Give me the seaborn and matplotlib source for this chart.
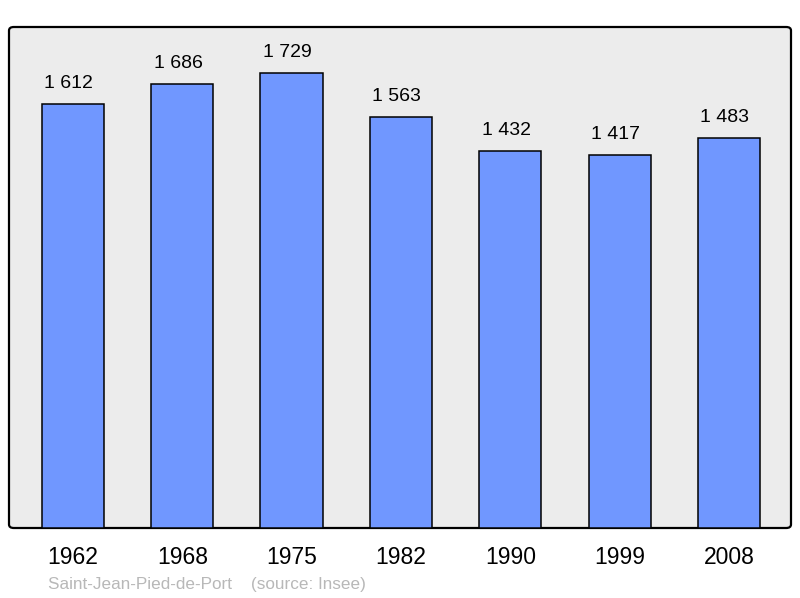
import matplotlib
matplotlib.use("Agg")
import matplotlib.pyplot as plt
import seaborn as sns
import pandas as pd
from matplotlib.patches import FancyBboxPatch

years = ["1962", "1968", "1975", "1982", "1990", "1999", "2008"]
population = [1612, 1686, 1729, 1563, 1432, 1417, 1483]
value_labels = ["1 612", "1 686", "1 729", "1 563", "1 432", "1 417", "1 483"]

sns.set_theme(style="white")
plt.rcParams['font.family'] = ['Liberation Sans', 'DejaVu Sans']

W, H = 800, 598
fig = plt.figure(figsize=(8, 5.98), dpi=100)
fig.patch.set_facecolor("white")

x0, y0, x1, y1 = 9, 27, 791, 528
ax = fig.add_axes([x0 / W, (H - y1) / H, (x1 - x0) / W, (y1 - y0) / H])
ax.set_facecolor("none")

# rounded background box
box = FancyBboxPatch((x0 / W, (H - y1) / H), (x1 - x0) / W, (y1 - y0) / H,
                     boxstyle="round,pad=0,rounding_size=0.006",
                     transform=fig.transFigure, facecolor="#ececec",
                     edgecolor="black", linewidth=1.6, zorder=0, clip_on=False)
ax.add_patch(box)

df = pd.DataFrame({"year": years, "pop": population})
sns.barplot(data=df, x="year", y="pop", ax=ax, color="#7097ff",
            saturation=1, width=0.57, edgecolor="black", linewidth=1.1,
            zorder=2)

for bar, lab in zip(ax.containers[0], value_labels):
    cx = bar.get_x() + bar.get_width() / 2
    ax.annotate(lab, xy=(cx, bar.get_height()), xytext=(-3, 8.5),
                textcoords="offset points", ha="center", va="bottom",
                fontsize=14, color="black")

ax.set_xlim(-0.585, 6.567)
ax.set_ylim(0, 1903)
ax.set_xlabel("")
ax.set_ylabel("")
ax.set_yticks([])
ax.tick_params(axis="x", length=0, pad=13, labelsize=16.5, labelcolor="black")
for s in ax.spines.values():
    s.set_visible(False)

fig.text(48 / W, 1 - 584 / H, "Saint-Jean-Pied-de-Port    (source: Insee)",
         fontsize=12.3, color="#b8b8b8", va="center", ha="left")

fig.savefig("out.png", dpi=100)
